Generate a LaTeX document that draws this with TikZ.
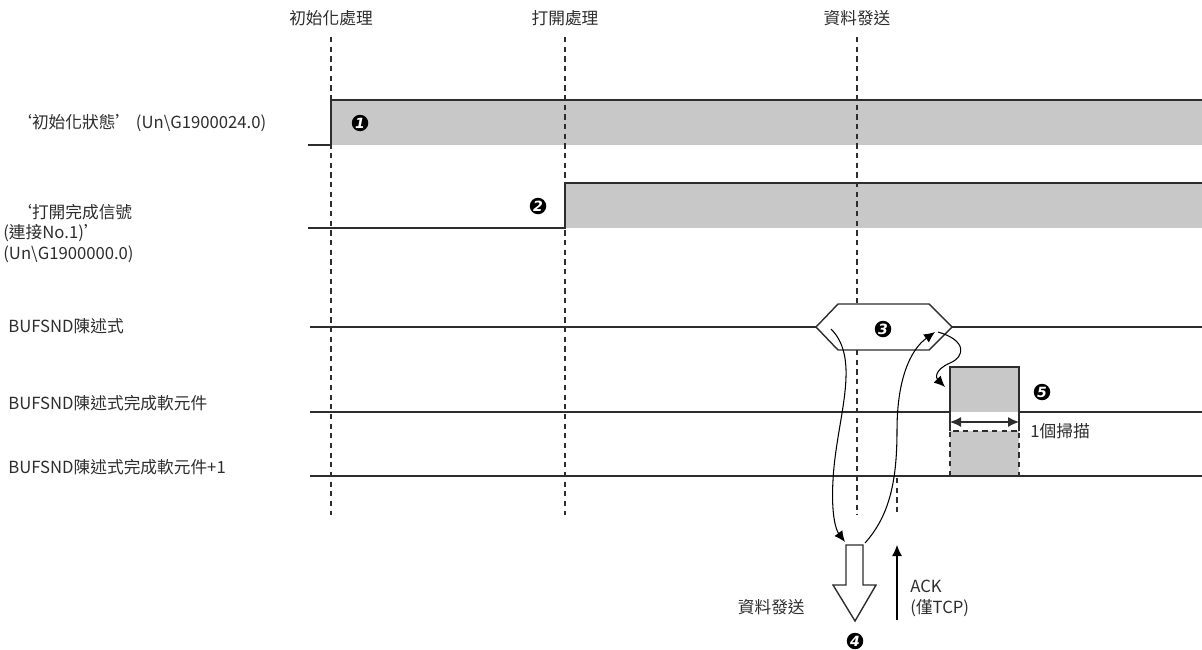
\documentclass[tikz,border=0pt]{standalone}
\usepackage{fontspec}
\setmainfont{Noto Sans CJK TC}
\newfontfamily\numfont{DejaVu Sans}
\usetikzlibrary{arrows.meta}
\definecolor{sigfill}{RGB}{200,200,200}
\definecolor{ink}{RGB}{45,45,45}

\begin{document}
\begin{tikzpicture}[x=0.02cm, y=-0.02cm,
            every node/.style={text=ink, font=\fontsize{9.5}{11}\selectfont},
            lbl/.style={anchor=west, inner sep=0pt, text height=7pt, text depth=2pt},
            head/.style={inner sep=0pt},
            sig/.style={draw=ink, line width=0.8pt},
            guide/.style={draw=ink, line width=0.6pt, dash pattern=on 3pt off 2.5pt},
            num/.style={circle, fill=black, text=white, inner sep=0pt, minimum size=0.33cm,
                        font=\numfont\bfseries\itshape\fontsize{8}{8}\selectfont},
            flow/.style={draw=black, line width=0.6pt, -{Latex[length=2.2mm, width=2mm]}}
        ]

    \useasboundingbox (0,0) rectangle (1202,649);

    % signal bands
    \fill[sigfill] (331,100) rectangle (1202,145);
    \draw[sig] (308,145) -- (331,145) -- (331,100) -- (1202,100);
    \fill[sigfill] (565,183) rectangle (1202,228);
    \draw[sig] (308,228) -- (565,228) -- (565,183) -- (1202,183);

    % instruction + completion pulses
    \draw[sig] (310,327) -- (816,327);
    \draw[sig, fill=white] (816,327) -- (838,304) -- (929,304) -- (952,327)
        -- (929,350) -- (838,350) -- cycle;
    \draw[sig] (952,327) -- (1202,327);
    \fill[sigfill] (950,367) rectangle (1019,412);
    \draw[sig] (310,412) -- (950,412) -- (950,367) -- (1019,367) -- (1019,412) -- (1202,412);
    \fill[sigfill] (950,431) rectangle (1019,476);
    \draw[guide] (950,476) -- (950,431) -- (1019,431) -- (1019,476);
    \draw[sig] (310,476) -- (1202,476);
    \draw[ink, line width=0.6pt] (950,412) -- (950,431) (1019,412) -- (1019,431);
    \draw[ink, line width=0.6pt, {Latex[length=2.2mm, width=2mm]}-{Latex[length=2.2mm, width=2mm]}] (950,422) -- (1019,422);

    % guides
    \draw[guide] (331,37) -- (331,515);
    \draw[guide] (565,37) -- (565,515);
    \draw[guide] (857,37) -- (857,304);
    \draw[guide] (857,350) -- (857,515);
    \draw[guide] (897,478) -- (897,515);

    % send block arrow
    \draw[sig, fill=white] (846,545) -- (863,545) -- (863,585) -- (876,585) -- (855,621)
        -- (833,585) -- (846,585) -- cycle;

    \coordinate (hexL)  at (831,329);
    \coordinate (hexR)  at (935,332);
    \coordinate (hexR2) at (938,332);
    \coordinate (blkL)  at (845,542);
    \coordinate (blkR)  at (865,543);
    \coordinate (pulse) at (945,387);
    \coordinate (ackA)  at (897,620);
    \coordinate (ackB)  at (897,545);

    \draw[flow] (hexL) .. controls (862,360) and (836,420) .. (833,480)
        .. controls (831,515) and (836,530) .. (blkL);
    \draw[flow] (blkR) .. controls (890,515) and (897,480) .. (897,430)
        .. controls (897,380) and (910,350) .. (hexR);
    \draw[flow] (hexR2) .. controls (966,340) and (966,356) .. (950,363)
        .. controls (934,370) and (936,378) .. (pulse);
    \draw[flow] (ackA) -- (ackB);

    % labels
    \node[head] (h1) at (331,18) {初始化處理};
    \node[head] (h2) at (565,18) {打開處理};
    \node[head] (h3) at (857,18) {資料發送};

    \node[lbl] (l1)  at (15,124) {‘初始化狀態’ (Un\textbackslash G1900024.0)};
    \node[lbl] (l2a) at (15,214) {‘打開完成信號};
    \node[lbl] (l2b) at (3,234)  {(連接No.1)’};
    \node[lbl] (l2c) at (3,255)  {(Un\textbackslash G1900000.0)};
    \node[lbl] (l3)  at (8,328)  {BUFSND陳述式};
    \node[lbl] (l4)  at (8,405)  {BUFSND陳述式完成軟元件};
    \node[lbl] (l5)  at (8,469)  {BUFSND陳述式完成軟元件+1};

    \node[lbl] (scan) at (1030,433) {1個掃描};
    \node[lbl] (ack)  at (910,588)  {ACK};
    \node[lbl] (tcp)  at (910,609)  {(僅TCP)};
    \node[lbl, anchor=east] (send) at (805,609) {資料發送};

    \node[num] (n1) at (360,123)  {1};
    \node[num] (n2) at (538,206)  {2};
    \node[num] (n3) at (883,329)  {3};
    \node[num] (n4) at (855,641)  {4};
    \node[num] (n5) at (1042,392) {5};

        \end{tikzpicture}
\end{document}
